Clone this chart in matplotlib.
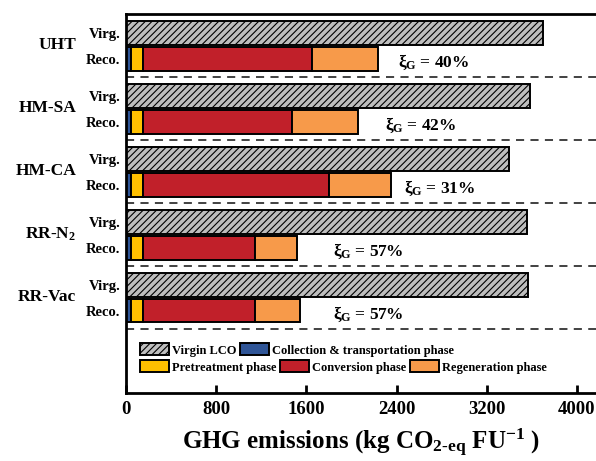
import matplotlib
matplotlib.use("Agg")
import matplotlib.pyplot as plt

plt.rcParams['font.family'] = ['Liberation Serif', 'DejaVu Serif']
plt.rcParams['font.weight'] = 'bold'
plt.rcParams['mathtext.fontset'] = 'custom'
plt.rcParams['mathtext.rm'] = 'Liberation Serif:bold'
plt.rcParams['mathtext.it'] = 'Liberation Serif:bold'
plt.rcParams['mathtext.bf'] = 'Liberation Serif:bold'
plt.rcParams['hatch.linewidth'] = 0.8

# ---- data ----
routes = ['UHT', 'HM-SA', 'HM-CA', 'RR-N$_2$', 'RR-Vac']
virgin = [3700, 3585, 3400, 3555, 3570]
collection = [40, 40, 40, 40, 40]
pretreatment = [110, 110, 110, 110, 110]
conversion = [1500, 1326, 1651, 992, 992]
regeneration = [586, 586, 548, 378, 405]
xi_g = [40, 42, 31, 57, 57]
xi_label_x = [2410, 2300, 2465, 1840, 1840]
xticks = [0, 800, 1600, 2400, 3200, 4000]

c_virgin = '#BEBEBE'
c_coll = '#2F5597'
c_pre = '#FFC000'
c_conv = '#C1202A'
c_regen = '#F79A4A'

fig = plt.figure(figsize=(5.96, 4.61), dpi=100)
ax_w = 1 - 126 / 596
ax = fig.add_axes([126 / 596, 1 - 393 / 461, ax_w, (393 - 14) / 461])

n = len(routes)
yv = [k + 0.30 for k in range(n)]
yr = [k + 0.71 for k in range(n)]
h = 0.38
lw = 1.4

ax.barh(yv, virgin, height=h, color=c_virgin, edgecolor='black', linewidth=lw,
        hatch='/////', label='Virgin LCO')
left = [0] * n
for vals, col, lab in [(collection, c_coll, 'Collection & transportation phase'),
                       (pretreatment, c_pre, 'Pretreatment phase'),
                       (conversion, c_conv, 'Conversion phase'),
                       (regeneration, c_regen, 'Regeneration phase')]:
    ax.barh(yr, vals, left=left, height=h, color=col, edgecolor='black',
            linewidth=lw, label=lab)
    left = [a + b for a, b in zip(left, vals)]

grp_x = (76 - 126) / (596 * ax_w)
for k in range(n):
    ax.axhline(k + 1, color='#333333', linewidth=1.3, dashes=(4.5, 3.5))
    ax.text(xi_label_x[k], k + 0.77, r'$\xi_{G}$' + f' = {xi_g[k]}%',
            fontsize=12.5, fontweight='bold', va='center', ha='left')
    ax.text(grp_x, k + 0.5, routes[k], transform=ax.get_yaxis_transform(),
            fontsize=12.5, fontweight='bold', ha='right', va='center')

ax.set_yticks(yv + yr)
ax.set_yticklabels(['Virg.'] * n + ['Reco.'] * n, fontsize=10.5, fontweight='bold')
ax.tick_params(axis='y', length=0, pad=4)
ax.set_ylim(6.02, 0)
ax.set_xlim(0, 4170)
ax.set_xticks(xticks)
ax.set_xticklabels([str(t) for t in xticks], fontsize=13.5, fontweight='bold')
ax.tick_params(axis='x', direction='in', length=6, width=2, pad=6)
for s in ['left', 'bottom', 'top']:
    ax.spines[s].set_linewidth(2)
ax.spines['right'].set_visible(False)

ax.set_xlabel(r'GHG emissions (kg CO$_{2\text{-}eq}$ FU$^{-1}$ )', fontsize=18,
              fontweight='bold', labelpad=6)

handles, labels = ax.get_legend_handles_labels()
common = dict(frameon=False, prop={'size': 9, 'weight': 'bold'}, handlelength=2.3,
              handleheight=1.1, handletextpad=0.25, columnspacing=0.3, borderpad=0,
              loc='center left')
leg1 = fig.legend(handles[:2], labels[:2], ncol=2,
                  bbox_to_anchor=(134 / 596, 1 - 350 / 461), **common)
leg2 = fig.legend(handles[2:], labels[2:], ncol=3,
                  bbox_to_anchor=(134 / 596, 1 - 367 / 461), **common)

fig.savefig('out.png', dpi=100)
